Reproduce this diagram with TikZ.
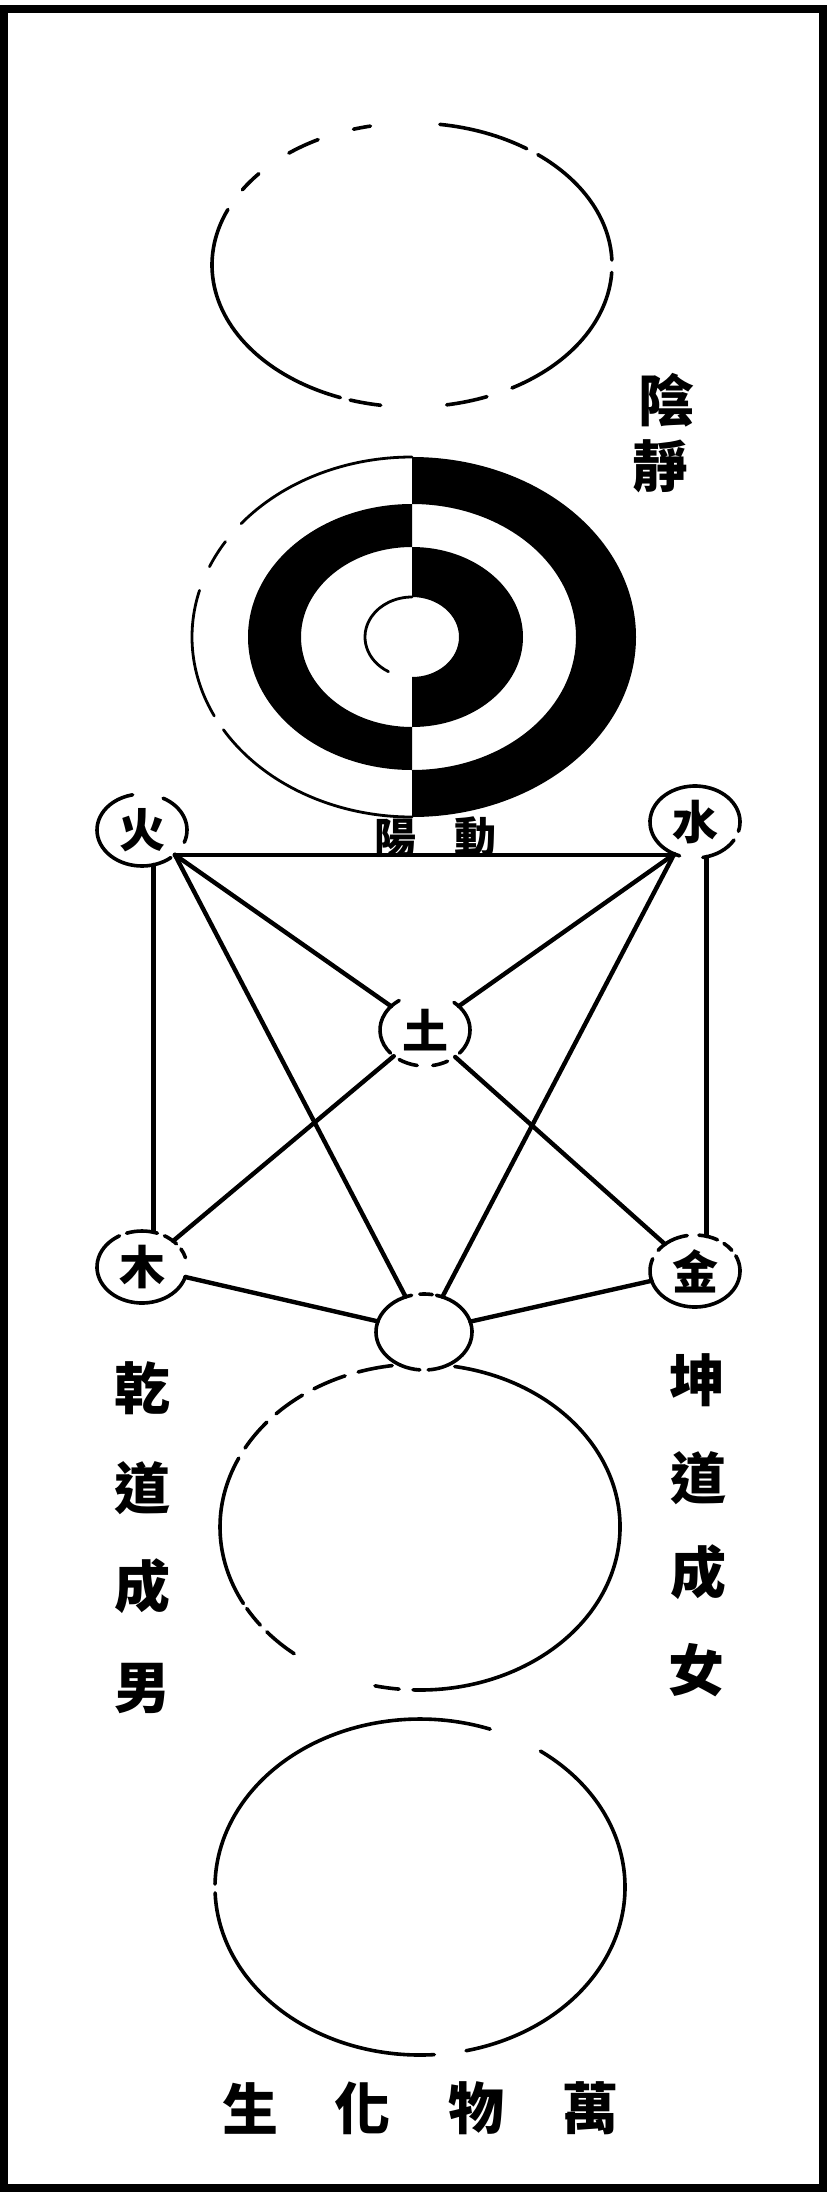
\documentclass[tikz,border=0pt]{standalone}
\usepackage{fontspec}
\newfontfamily\cjk{Noto Sans CJK TC}
\usetikzlibrary{shapes.geometric}
\newcommand\myarcs[5][ln]{%
  \foreach \a/\b in {#5} \draw[#1] (#2) ++(\a:#3 and #4) arc[start angle=\a, end angle=\b, x radius=#3, y radius=#4];}
\begin{document}
\begin{tikzpicture}[x=1pt,y=-1pt,
  ln/.style={line width=3.6pt, line cap=round},
  thinln/.style={line width=2.8pt, line cap=round},
  conn/.style={line width=4.4pt, line cap=round},
  elem/.style={ellipse, inner sep=0pt, minimum width=90pt, minimum height=72pt, font=\cjk\bfseries\fontsize{46}{46}\selectfont},
  lab/.style={inner sep=0pt, font=\cjk\bfseries\fontsize{56}{56}\selectfont},
  labm/.style={inner sep=0pt, font=\cjk\bfseries\fontsize{42}{42}\selectfont},
]
\useasboundingbox (0,0) rectangle (827,2195);
\fill[white] (0,0) rectangle (827,2195);
\draw[line width=8pt] (4,9) rectangle (823,2188);

% top ellipse (yin stillness)
\myarcs{412,265}{200}{142}{-82/-55, -51/-2, 3/60, 68/80, 99/108, 111/203, 212/220, 232/242, 253/258}

% yin-yang concentric figure
\fill (412,457) arc[start angle=-90, end angle=90, x radius=224, y radius=180] -- (412,770)
      arc[start angle=90, end angle=-90, x radius=164, y radius=133] -- cycle;
\fill (412,504) arc[start angle=270, end angle=90, x radius=164, y radius=133] -- (412,727)
      arc[start angle=90, end angle=270, x radius=111, y radius=90] -- cycle;
\fill (412,547) arc[start angle=-90, end angle=90, x radius=111, y radius=90] -- (412,677)
      arc[start angle=90, end angle=-90, x radius=47, y radius=40] -- cycle;
\myarcs[thinln]{412,637}{220}{180}{90/149, 154/195, 203/212, 219/270}
\myarcs[thinln]{412,637}{47}{40}{120/270}

\node[lab] (yin) at (666,400) {陰};
\node[lab] (jing) at (660,466) {靜};
\node[labm] (yang) at (395,838) {陽};
\node[labm] (dong) at (475,837) {動};

% five elements
\node[elem] (huo) at (142,830) {火};
\node[elem] (shui) at (695,822) {水};
\node[elem] (tu) at (425,1030) {土};
\node[elem] (mu) at (142,1267) {木};
\node[elem] (jin) at (695,1271) {金};
\node[ellipse, inner sep=0pt, minimum width=96pt, minimum height=76pt] (wuji) at (424,1332) {};

\myarcs{huo.center}{45}{36}{-62/20, 50/258}
\myarcs{shui.center}{45}{36}{30/80, 110/375}
\myarcs{tu.center}{45}{36}{-50/40, 60/80, 100/125, 140/235}
\myarcs{mu.center}{45}{36}{15/240, 250/290, 300/320, 330/345}
\myarcs{jin.center}{45}{36}{-25/200, 215/260, 275/300, 310/325}
\myarcs{wuji.center}{48}{38}{-75/85, 95/255, 265/280}

\coordinate (huohub) at (huo.-37);
\coordinate (shuihub) at (shui.-123);
\draw[conn] (huohub) -- (huohub -| shuihub);
\draw[conn] (huohub) -- (tu);
\draw[conn] (huohub) -- (wuji);
\draw[conn] (shuihub) -- (tu);
\draw[conn] (shuihub) -- (wuji);
\draw[conn] (tu) -- (mu);
\draw[conn] (tu) -- (jin);
\draw[conn] (mu) -- (wuji);
\draw[conn] (jin) -- (wuji);
\draw[conn] (huo.-72) -- (mu.72);
\draw[conn] (shui.-72) -- (jin.72);

% third ellipse
\myarcs{420,1527}{200}{163}{-80/92, 96/103, 129/140, 143/150, 152/205, 209/220, 224/234, 238/248, 252/262}
% fourth circle
\myarcs{420,1887}{205}{168}{-54/77, 86/178, 181/290}

% side texts
\node[lab] (qian) at (142,1388) {乾};
\node[lab] (dao1) at (142,1488) {道};
\node[lab] (cheng1) at (142,1586) {成};
\node[lab] (nan) at (142,1688) {男};
\node[lab] (kun) at (697,1380) {坤};
\node[lab] (dao2) at (698,1478) {道};
\node[lab] (cheng2) at (698,1572) {成};
\node[lab] (nv) at (696,1670) {女};

% bottom text
\node[lab] (sheng) at (250,2108) {生};
\node[lab] (hua) at (362,2108) {化};
\node[lab] (wu) at (476,2108) {物};
\node[lab] (wan) at (590,2108) {萬};
\end{tikzpicture}
\end{document}
